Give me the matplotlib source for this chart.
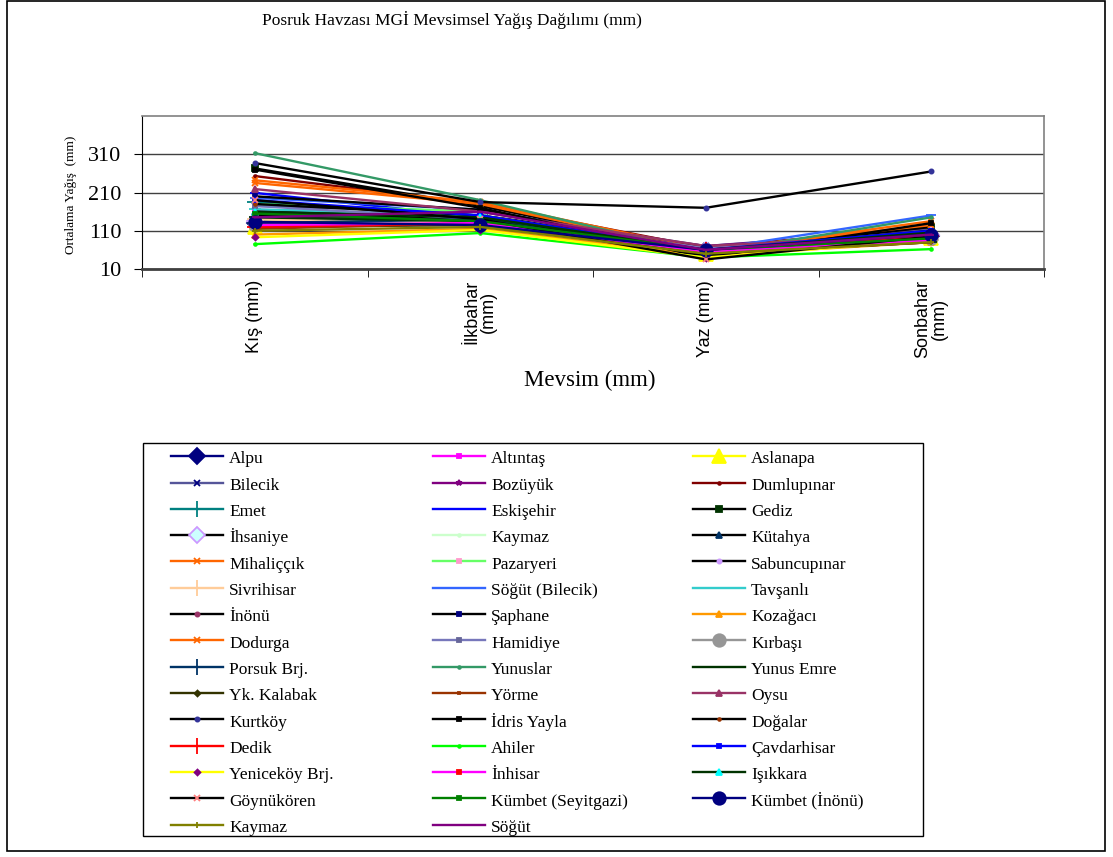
import numpy as np
import matplotlib
matplotlib.use("Agg")
from matplotlib import pyplot as plt
from matplotlib.patches import Rectangle

# seasons (x categories)
seasons = ["Kış (mm)", "İlkbahar\n(mm)", "Yaz (mm)", "Sonbahar\n(mm)"]

# stations, in legend order
stations = [
    "Alpu", "Altıntaş", "Aslanapa", "Bilecik", "Bozüyük", "Dumlupınar",
    "Emet", "Eskişehir", "Gediz", "İhsaniye", "Kaymaz", "Kütahya",
    "Mihaliççık", "Pazaryeri", "Sabuncupınar", "Sivrihisar", "Söğüt (Bilecik)", "Tavşanlı",
    "İnönü", "Şaphane", "Kozağacı", "Dodurga", "Hamidiye", "Kırbaşı",
    "Porsuk Brj.", "Yunuslar", "Yunus Emre", "Yk. Kalabak", "Yörme", "Oysu",
    "Kurtköy", "İdris Yayla", "Doğalar", "Dedik", "Ahiler", "Çavdarhisar",
    "Yeniceköy Brj.", "İnhisar", "Işıkkara", "Göynükören", "Kümbet (Seyitgazi)", "Kümbet (İnönü)",
    "Kaymaz", "Söğüt",
]

# seasonal totals (mm): winter, spring, summer, autumn
kis = [130, 165, 120, 175, 140, 253, 185, 209, 273, 135, 140, 160,
       242, 180, 155, 140, 196, 166, 150, 200, 100, 235, 175, 125,
       130, 313, 145, 120, 115, 219, 287, 270, 180, 120, 75, 190,
       93, 125, 160, 190, 155, 133, 110, 145]
ilkbahar = [125, 150, 130, 160, 150, 180, 150, 145, 175, 145, 135, 150,
            185, 160, 140, 130, 165, 150, 145, 165, 115, 180, 140, 125,
            140, 190, 135, 125, 130, 160, 185, 170, 150, 130, 104, 150,
            112, 130, 145, 140, 135, 125, 120, 160]
yaz = [55, 60, 50, 70, 70, 65, 55, 50, 55, 60, 55, 65,
       60, 60, 60, 50, 60, 55, 60, 60, 45, 55, 65, 55,
       60, 50, 50, 55, 50, 70, 170, 40, 45, 60, 40, 60,
       40, 55, 60, 35, 60, 60, 50, 60]
sonbahar = [95, 105, 90, 115, 110, 120, 100, 100, 120, 100, 90, 105,
            125, 110, 100, 85, 150, 105, 100, 110, 80, 135, 100, 90,
            95, 145, 80, 85, 80, 100, 265, 130, 110, 95, 62, 110,
            85, 85, 105, 95, 90, 100, 80, 100]

# (line colour, marker, marker face, marker edge, marker size)
styles = [
    ("#000080", "D", "#000080", "#000080", 8),
    ("#FF00FF", "s", "#FF00FF", "#FF00FF", 3),
    ("#FFFF00", "^", "#FFFF00", "#FFFF00", 10),
    ("#555599", "x", "#000080", "#000080", 4),
    ("#800080", "*", "#800080", "#800080", 4),
    ("#800000", "o", "#800000", "#800000", 2),
    ("#008080", "+", "#008080", "#008080", 11),
    ("#0000FF", "_", "#0000FF", "#0000FF", 7),
    ("#000000", "s", "#003300", "#003300", 4),
    ("#000000", "D", "#CCFFFF", "#CC99FF", 8),
    ("#CCFFCC", "o", "#CCFFCC", "#CCFFCC", 2),
    ("#000000", "^", "#003366", "#003366", 4),
    ("#FF6600", "x", "#FF6600", "#FF6600", 4),
    ("#66FF66", "s", "#FF99CC", "#FF99CC", 3),
    ("#000000", "o", "#CC99FF", "#CC99FF", 3),
    ("#FFCC99", "+", "#FFCC99", "#FFCC99", 11),
    ("#3366FF", "_", "#3366FF", "#3366FF", 7),
    ("#33CCCC", "_", "#33CCCC", "#33CCCC", 9),
    ("#000000", "o", "#993366", "#993366", 3),
    ("#000000", "s", "#000080", "#000080", 3),
    ("#FF9900", "^", "#FF9900", "#FF9900", 4),
    ("#FF6600", "x", "#FF6600", "#FF6600", 4),
    ("#7777BB", "s", "#666699", "#666699", 3),
    ("#969696", "o", "#969696", "#969696", 9),
    ("#003366", "+", "#003366", "#003366", 12),
    ("#339966", "o", "#339966", "#339966", 2),
    ("#003300", "_", "#003300", "#003300", 9),
    ("#333300", "D", "#333300", "#333300", 3),
    ("#993300", "s", "#993300", "#993300", 2),
    ("#993366", "^", "#993366", "#993366", 4),
    ("#000000", "o", "#333399", "#333399", 3),
    ("#000000", "s", "#000000", "#000000", 3),
    ("#000000", "o", "#993300", "#993300", 2),
    ("#FF0000", "+", "#FF0000", "#FF0000", 12),
    ("#00FF00", "o", "#00FF00", "#00FF00", 2),
    ("#0000FF", "s", "#0000FF", "#0000FF", 3),
    ("#FFFF00", "D", "#800080", "#800080", 3),
    ("#FF00FF", "s", "#FF0000", "#FF0000", 3),
    ("#003300", "^", "#00FFFF", "#00FFFF", 4),
    ("#000000", "x", "#FF8080", "#FF8080", 4),
    ("#008000", "s", "#008000", "#008000", 3),
    ("#000080", "o", "#000080", "#000080", 9),
    ("#808000", "+", "#808000", "#808000", 5),
    ("#800080", "_", "#800080", "#800080", 4),
]

serif = ["Liberation Serif", "DejaVu Serif"]
sans = ["Liberation Sans", "DejaVu Sans"]

W, H = 1113, 857
fig = plt.figure(figsize=(W / 100, H / 100), dpi=100)

ax = fig.add_axes([142 / W, 1 - 269 / H, (1044 - 142) / W, (269 - 116) / H])

x = np.arange(len(seasons))
handles = []
for i, name in enumerate(stations):
    lc, mk, mf, me, ms = styles[i]
    vals = [kis[i], ilkbahar[i], yaz[i], sonbahar[i]]
    (h,) = ax.plot(x, vals, color=lc, lw=1.7, marker=mk, markersize=ms,
                   markerfacecolor=mf, markeredgecolor=me, mew=1.3, label=name,
                   clip_on=False)
    handles.append(h)

ax.set_xlim(-0.5, 3.5)
ax.set_ylim(10, 410)
ax.set_yticks([10, 110, 210, 310])
ax.set_yticklabels(["10", "110", "210", "310"], family=serif, fontsize=16)
ax.yaxis.grid(True, color="#404040", lw=1)
ax.set_axisbelow(True)

ax.set_xticks(x)
ax.set_xticklabels(seasons, rotation=90, family=sans, fontsize=13,
                   va="top", ha="center", linespacing=1.0)
ax.set_xticks([-0.5, 0.5, 1.5, 2.5, 3.5], minor=True)
ax.tick_params(axis="x", which="major", length=0, pad=8)
ax.tick_params(axis="x", which="minor", length=6, direction="out", color="black")
ax.tick_params(axis="y", length=6, direction="out", pad=9)

for s in ["top", "right"]:
    ax.spines[s].set_color("#808080")
    ax.spines[s].set_linewidth(1.2)
ax.spines["left"].set_color("black")
ax.spines["bottom"].set_color("#404040")
ax.spines["bottom"].set_linewidth(2)

fig.text(71 / W, 1 - 195 / H, "Ortalama Yağış  (mm)", family=serif, fontsize=9.5,
         rotation=90, ha="center", va="center")
fig.text(590 / W, 1 - 380 / H, "Mevsim (mm)", family=serif, fontsize=16.5,
         ha="center", va="center")
fig.text(452 / W, 1 - 20 / H, "Posruk Havzası MGİ Mevsimsel Yağış Dağılımı (mm)",
         family=serif, fontsize=12.5, ha="center", va="center")

# legend: three columns, row-major order
fig.add_artist(Rectangle((143 / W, 1 - 836 / H), (923 - 143) / W, (836 - 443) / H,
                         transform=fig.transFigure, fill=False, ec="black", lw=1))
col_x = [171, 433, 693]
for c in range(3):
    hs = handles[c::3]
    fig.legend(handles=hs, labels=[h.get_label() for h in hs], loc="upper left",
               bbox_to_anchor=(col_x[c] / W, 1 - 449 / H), frameon=False,
               borderpad=0, borderaxespad=0, prop={"family": serif, "size": 12.5},
               handlelength=3.0, handletextpad=0.35, handleheight=1.15,
               labelspacing=0.45)

fig.add_artist(Rectangle((7 / W, 1 - 851 / H), (1105 - 7) / W, (851 - 1) / H,
                         transform=fig.transFigure, fill=False, ec="black", lw=1.2))

fig.savefig("out.png", dpi=100)
